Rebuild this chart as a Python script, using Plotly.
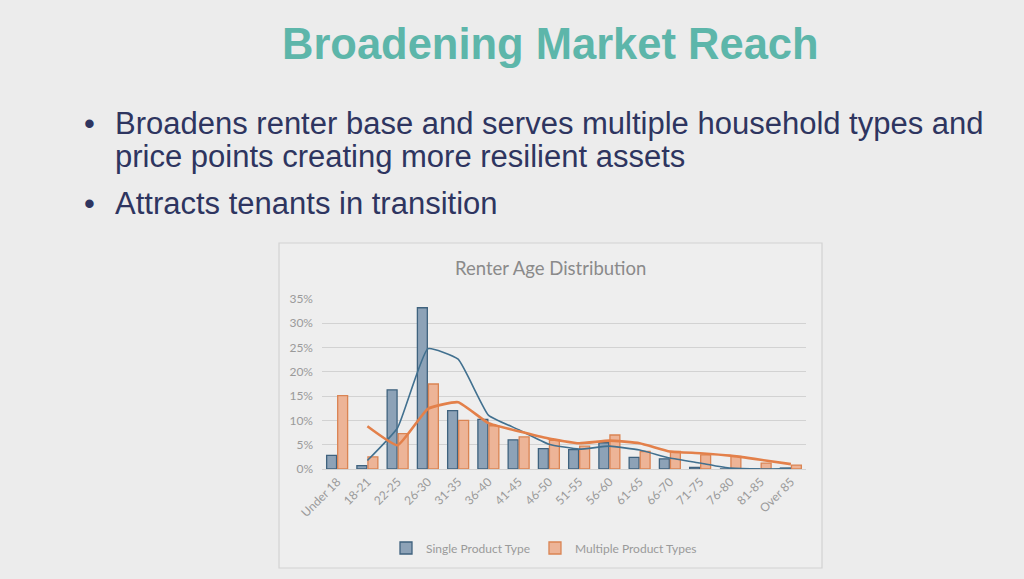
import plotly.graph_objects as go
import pandas as pd

categories = ["Under 18", "18-21", "22-25", "26-30", "31-35", "36-40", "41-45", "46-50",
              "51-55", "56-60", "61-65", "66-70", "71-75", "76-80", "81-85", "Over 85"]
single = [2.8, 0.7, 16.3, 33.2, 12.0, 10.2, 6.0, 4.2, 4.0, 5.4, 2.4, 2.1, 0.35, 0.0, 0.0, 0.2]
multiple = [15.1, 2.5, 7.3, 17.5, 10.0, 8.9, 6.6, 5.9, 4.7, 7.0, 3.6, 3.6, 2.9, 2.6, 1.2, 0.8]

single_f = [v / 100 for v in single]
multiple_f = [v / 100 for v in multiple]
# 2-period moving average trendlines
single_ma = pd.Series(single_f).rolling(2).mean().tolist()
multiple_ma = pd.Series(multiple_f).rolling(2).mean().tolist()

BG = "#ECECEC"
BLUE_FILL = "#8DA2B7"
BLUE_LINE = "#3F627E"
ORANGE_FILL = "#EDB497"
ORANGE_LINE = "#DA8453"
TREND_BLUE = "#41708F"
TREND_ORANGE = "#E3804A"
TXT = "#9A9A9A"
CHART_FONT = "Lato"

fig = go.Figure()
fig.add_trace(go.Bar(x=categories, y=single_f, name="Single Product Type",
                     marker=dict(color=BLUE_FILL, line=dict(color=BLUE_LINE, width=1.3))))
fig.add_trace(go.Bar(x=categories, y=multiple_f, name="Multiple Product Types",
                     marker=dict(color=ORANGE_FILL, line=dict(color=ORANGE_LINE, width=1.3))))
fig.add_trace(go.Scatter(x=categories, y=single_ma, mode="lines", showlegend=False,
                         line=dict(color=TREND_BLUE, width=1.6, shape="spline", smoothing=0.4),
                         hoverinfo="skip"))
fig.add_trace(go.Scatter(x=categories, y=multiple_ma, mode="lines", showlegend=False,
                         line=dict(color=TREND_ORANGE, width=2.6, shape="spline", smoothing=0.4),
                         hoverinfo="skip"))

W, H = 1024, 579
def px(x):
    return x / W
def py(y):
    return 1 - y / H

BODY = "#2E3560"
fig.update_layout(
    width=W, height=H, autosize=False,
    margin=dict(l=0, r=0, t=0, b=0, pad=0),
    paper_bgcolor=BG, plot_bgcolor="rgba(0,0,0,0)",
    barmode="group", bargap=0.27, bargroupgap=0.1,
    font=dict(family=CHART_FONT, color=TXT, size=11),
    showlegend=True,
    legend=dict(orientation="h", x=px(386), xanchor="left", y=py(548), yanchor="middle",
                font=dict(family=CHART_FONT, size=12, color=TXT), bgcolor="rgba(0,0,0,0)",
                itemwidth=30, traceorder="normal"),
    xaxis=dict(domain=[px(322), px(806)], showgrid=False, tickangle=-45, automargin=False,
               showline=True, linecolor="#D2D2D2", linewidth=1.3, ticks="",
               tickfont=dict(family=CHART_FONT, size=12, color=TXT), fixedrange=True),
    yaxis=dict(domain=[py(469), py(299)], range=[0, 0.35], dtick=0.05, tickformat=".0%",
               showgrid=True, gridcolor="#D2D2D2", gridwidth=1.3, zeroline=False, automargin=False,
               ticks="", ticklabelstandoff=8,
               tickfont=dict(family=CHART_FONT, size=12, color=TXT), fixedrange=True),
    shapes=[dict(type="rect", xref="paper", yref="paper",
                 x0=px(279), x1=px(822), y0=py(568), y1=py(243),
                 line=dict(color="#D2D2D2", width=1.2), fillcolor="#EEEEEE", layer="below")],
    annotations=[
        dict(text="<b>Broadening Market Reach</b>", xref="paper", yref="paper",
             x=px(550), y=py(44), xanchor="center", yanchor="middle", showarrow=False,
             font=dict(family="Liberation Sans", size=43.5, color="#5DB6AA")),
        dict(text="•", xref="paper", yref="paper", x=px(82), y=py(124), xanchor="left",
             yanchor="middle", showarrow=False,
             font=dict(family="Liberation Sans", size=31, color=BODY)),
        dict(text="Broadens renter base and serves multiple household types and",
             xref="paper", yref="paper", x=px(113), y=py(124), xanchor="left",
             yanchor="middle", showarrow=False,
             font=dict(family="Liberation Sans", size=31, color=BODY)),
        dict(text="price points creating more resilient assets",
             xref="paper", yref="paper", x=px(113), y=py(157), xanchor="left",
             yanchor="middle", showarrow=False,
             font=dict(family="Liberation Sans", size=31, color=BODY)),
        dict(text="•", xref="paper", yref="paper", x=px(82), y=py(203), xanchor="left",
             yanchor="middle", showarrow=False,
             font=dict(family="Liberation Sans", size=31, color=BODY)),
        dict(text="Attracts tenants in transition",
             xref="paper", yref="paper", x=px(113), y=py(203), xanchor="left",
             yanchor="middle", showarrow=False,
             font=dict(family="Liberation Sans", size=31, color=BODY)),
        dict(text="Renter Age Distribution", xref="paper", yref="paper",
             x=px(550), y=py(268), xanchor="center", yanchor="middle", showarrow=False,
             font=dict(family=CHART_FONT, size=18.5, color="#8A8A8A")),
    ],
)

fig.write_html("out.html", config={"displayModeBar": False},
               post_script="document.body.style.margin='0';document.body.style.overflow='hidden';")
